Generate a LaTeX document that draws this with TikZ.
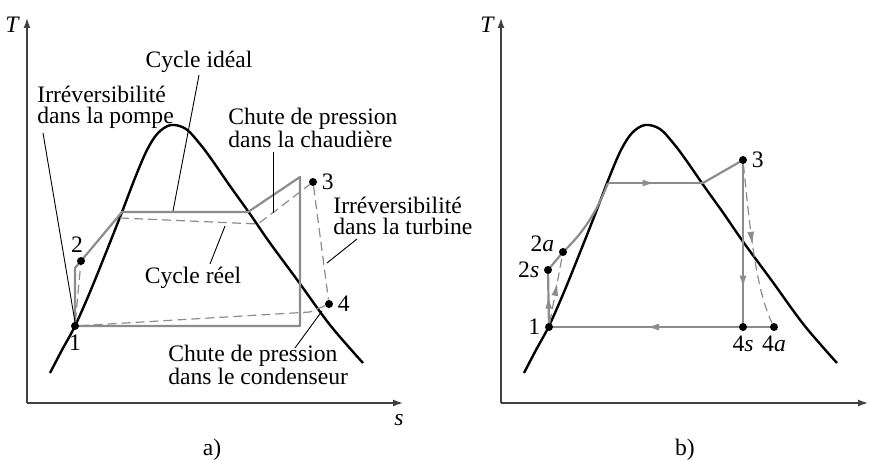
\documentclass[tikz,border=0pt]{standalone}
\usepackage{fontspec}
\setmainfont{Liberation Serif}
\usepackage{xcolor}
\definecolor{cyclegrey}{gray}{0.55}
\definecolor{axisgrey}{gray}{0.25}
\usepackage{tikz}
\usetikzlibrary{arrows.meta,positioning,decorations.markings,backgrounds}

\begin{document}
\begin{tikzpicture}[
    x=0.5pt, y=-0.5pt,
    every node/.style={font=\fontsize{11.8}{10.5}\selectfont, inner sep=1pt},
    axis/.style={axisgrey, line width=0.7pt, -{Latex[length=5pt,width=3.5pt]}},
    dome/.style={black, line width=1.2pt},
    ideal/.style={cyclegrey, line width=1.1pt},
    real/.style={cyclegrey, line width=0.6pt, dash pattern=on 4.5pt off 2.5pt},
    leader/.style={black, line width=0.45pt},
    dot/.style={circle, fill=black, inner sep=0pt, minimum size=4pt},
    midarrow/.style={decoration={markings, mark=at position #1 with {\arrow[cyclegrey]{Latex[length=6.5pt,width=3.5pt]}}}, postaction={decorate}}
]
\useasboundingbox (0,0) rectangle (869,460);

% ---------------- a) ----------------
% Axes
\coordinate (oa) at (27,403);
\coordinate (ta) at (27,18);
\coordinate (sa) at (403,403);
\draw[axis] (oa) -- (ta);
\draw[axis] (oa) -- (sa);
\node (Tlabela) at (12,25) {\itshape T};
\node (slabela) at (399,420) {\itshape s};
\node (capa) at (212,450) {a)};

% State points
\node (p1) [dot] at (75,326) {};
\node (p2) [dot] at (81,261) {};
\node (p3) [dot] at (313,182) {};
\node (p4) [dot] at (329,304) {};
\node (n1) [below=1pt of p1] {1};
\node (n2) [above=1pt of p2, xshift=-2pt] {2};
\node (n3) [right=1pt of p3] {3};
\node (n4) [right=1pt of p4] {4};

% ---------------- b) ----------------
% Axes
\coordinate (ob) at (501,403);
\coordinate (tb) at (501,18);
\coordinate (sb) at (868,403);
\draw[axis] (ob) -- (tb);
\draw[axis] (ob) -- (sb);
\node (Tlabelb) at (487,25) {\itshape T};
\node (capb) at (685,450) {b)};

% State points
\node (b1) [dot] at (549,327) {};
\node (b2s) [dot] at (548,270) {};
\node (b2a) [dot] at (563,252) {};
\node (b3) [dot] at (743,160) {};
\node (b4s) [dot] at (743,327) {};
\node (b4a) [dot] at (774,327) {};
\node (m1) [left=1pt of b1] {1};
\node (m2s) [left=1pt of b2s] {2\textit{s}};
\node (m2a) [left=1pt of b2a, yshift=4pt] {2\textit{a}};
\node (m3) [right=1pt of b3] {3};
\node (m4s) [below=1pt of b4s] {4\textit{s}};
\node (m4a) [below=1pt of b4a] {4\textit{a}};

\begin{scope}[on background layer]
% Saturation domes (same curve, second one shifted)
\foreach \dx in {0,474} {
  \draw[dome, shift={(\dx,0)}] plot[smooth, tension=0.55] coordinates {
    (50,373) (62,350) (75,326) (90,292) (105,255) (122,212) (135,178) (147,150)
    (158,133) (171,125) (186,129) (200,144) (212,160) (230,186) (250,214)
    (270,243) (298,281) (330,325) (363,363)};
}

% a) ideal cycle
\coordinate (a2k) at (75,268);
\coordinate (af) at (122,212);
\coordinate (ag) at (248,212);
\coordinate (ah) at (300,177);
\coordinate (ai) at (300,326);
\draw[ideal, line join=round] (p1.center) -- (a2k) -- (p2.center) -- (af) -- (ag) -- (ah) -- (ai) -- (p1.center);

% a) actual cycle
\coordinate (rf) at (120,218);
\coordinate (rg) at (258,224);
\coordinate (r4) at (310,312);
\draw[real] (p1) -- (p2);
\draw[real] (rf) -- (rg) -- (p3);
\draw[real] (p3) -- (p4);
\draw[real] (p4) -- (r4) -- (p1);

% b) isentropic and actual processes
\coordinate (bf) at (608,183);
\coordinate (bg) at (703,183);
\draw[ideal, midarrow=0.55] (b1.center) -- (b2s.center);
\draw[ideal] (b2s.center) -- (b2a.center);
\draw[ideal] (b2a.center) .. controls (582,234) and (596,214) .. (bf);
\draw[ideal, midarrow=0.5] (bf) -- (bg);
\draw[ideal] (bg) -- (b3.center);
\draw[ideal, midarrow=0.77] (b3.center) -- (b4s.center);
\draw[ideal] (b4a.center) -- (b4s.center);
\draw[ideal, midarrow=0.5] (b4s.center) -- (b1.center);
\draw[real, midarrow=0.6] (b1) -- (b2a);
\draw[real, midarrow=0.5] (b3) .. controls (750,230) and (756,290) .. (b4a);
\end{scope}

% Annotations
\node (idealtxt) at (199,62) {Cycle idéal};
\node (pumptxt) [anchor=west, align=left] at (35,107) {Irréversibilité\\dans la pompe};
\node (boilertxt) [anchor=west, align=left] at (226,128) {Chute de pression\\dans la chaudière};
\node (turbtxt) [anchor=west, align=left] at (331,216) {Irréversibilité\\dans la turbine};
\node (realtxt) at (193,278) {Cycle réel};
\node (condtxt) [anchor=west, align=left] at (166,365) {Chute de pression\\dans le condenseur};

\coordinate (idealpt) at (173,211);
\coordinate (pumpst) at (43,133);
\coordinate (pumppt) at (75,322);
\coordinate (boilerst) at (273,152);
\coordinate (boilerpt) at (273,213);
\coordinate (turbst) at (357,239);
\coordinate (turbpt) at (327,263);
\coordinate (realst) at (210,264);
\coordinate (realpt) at (225,226);
\coordinate (condst) at (295,348);
\coordinate (condpt) at (322,311);
\draw[leader] (idealtxt.south) -- (idealpt);
\draw[leader] (pumpst) -- (pumppt);
\draw[leader] (boilerst) -- (boilerpt);
\draw[leader] (turbst) -- (turbpt);
\draw[leader] (realst) -- (realpt);
\draw[leader] (condst) -- (condpt);
\end{tikzpicture}
\end{document}
